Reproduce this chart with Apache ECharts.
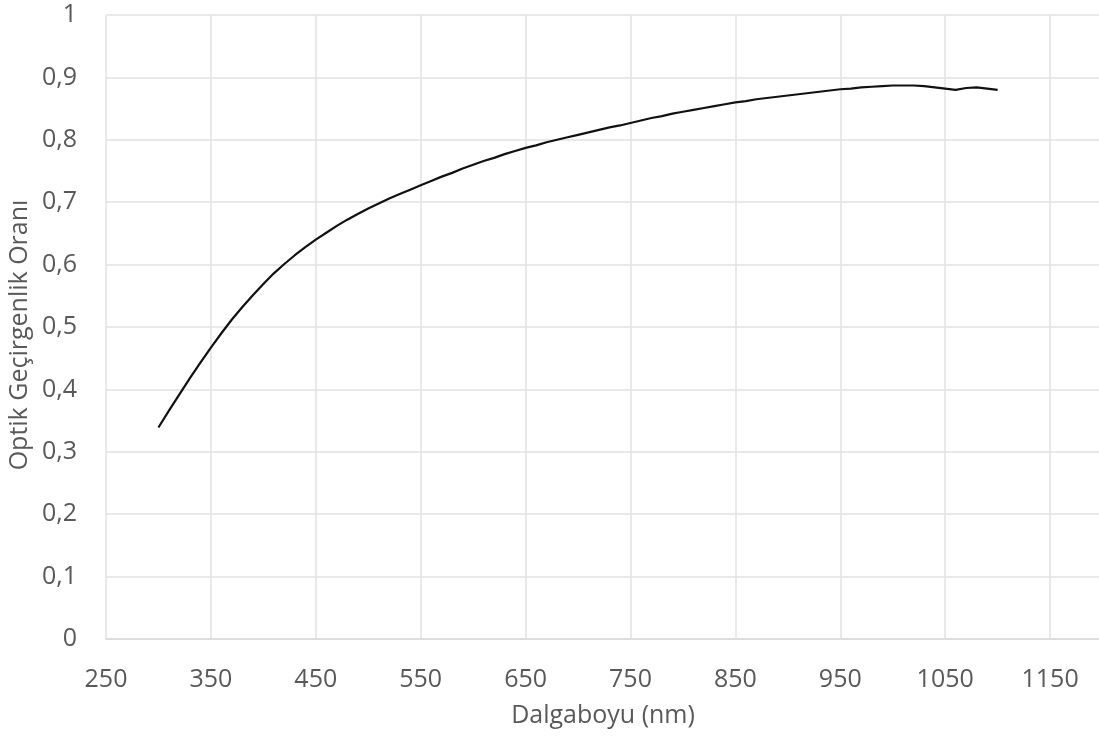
<!DOCTYPE html>
<html>
<head>
<meta charset="utf-8">
<script src="https://cdn.jsdelivr.net/npm/echarts@6/dist/echarts.min.js"></script>
<style>
  html, body { margin: 0; padding: 0; background: #fff; }
  #chart { width: 1099px; height: 738px; }
</style>
</head>
<body>
<div id="chart"></div>
<script>
// dalga boyu (nm)
const wavelength = [
  300, 310, 320, 330, 340, 350, 360, 370, 380, 390,
  400, 410, 420, 430, 440, 450, 460, 470, 480, 490,
  500, 510, 520, 530, 540, 550, 560, 570, 580, 590,
  600, 610, 620, 630, 640, 650, 660, 670, 680, 690,
  700, 710, 720, 730, 740, 750, 760, 770, 780, 790,
  800, 810, 820, 830, 840, 850, 860, 870, 880, 890,
  900, 910, 920, 930, 940, 950, 960, 970, 980, 990,
  1000, 1010, 1020, 1030, 1040, 1050, 1060, 1070, 1080, 1090, 1100
];
// optik geçirgenlik oranı
const transmittance = [
  0.339, 0.366, 0.392, 0.418, 0.443, 0.467, 0.490, 0.512, 0.532, 0.551,
  0.569, 0.586, 0.601, 0.615, 0.628, 0.640, 0.651, 0.662, 0.672, 0.681,
  0.690, 0.698, 0.706, 0.713, 0.720, 0.727, 0.734, 0.741, 0.747, 0.754,
  0.760, 0.766, 0.771, 0.777, 0.782, 0.787, 0.791, 0.796, 0.800, 0.804,
  0.808, 0.812, 0.816, 0.820, 0.823, 0.827, 0.831, 0.835, 0.838, 0.842,
  0.845, 0.848, 0.851, 0.854, 0.857, 0.860, 0.862, 0.865, 0.867, 0.869,
  0.871, 0.873, 0.875, 0.877, 0.879, 0.881, 0.882, 0.884, 0.885, 0.886,
  0.887, 0.887, 0.887, 0.886, 0.884, 0.882, 0.880, 0.883, 0.884, 0.882, 0.880
];
const xTitle = "Dalgaboyu (nm)";
const yTitle = "Optik Geçirgenlik Oranı";

const FONT = "'Open Sans', 'DejaVu Sans', sans-serif";
const TEXT_COLOR = "#595959";
const GRID_COLOR = "#e2e2e2";

const chart = echarts.init(document.getElementById("chart"), null, { renderer: "canvas" });

const option = {
  backgroundColor: "#ffffff",
  animation: false,
  textStyle: { fontFamily: FONT },
  grid: {
    left: 106,
    right: -56,
    top: 15,
    bottom: 99,
    containLabel: false,
    outerBoundsMode: "none"
  },
  xAxis: {
    type: "value",
    min: 250,
    max: 1250,
    interval: 100,
    axisLine: { show: true, lineStyle: { color: "#d9d9d9", width: 1.5 } },
    axisTick: { show: false },
    axisLabel: {
      color: TEXT_COLOR,
      fontSize: 25,
      fontFamily: FONT,
      margin: 28,
      formatter: function (v) {
        return String(v);
      }
    },
    splitLine: { show: true, lineStyle: { color: GRID_COLOR, width: 1.5 } }
  },
  yAxis: {
    type: "value",
    min: 0,
    max: 1,
    interval: 0.1,
    axisLine: { show: false },
    axisTick: { show: false },
    axisLabel: {
      color: TEXT_COLOR,
      fontSize: 25,
      fontFamily: FONT,
      margin: 29,
      formatter: function (v) {
        return (Math.round(v * 10) / 10).toString().replace(".", ",");
      }
    },
    splitLine: { show: true, lineStyle: { color: GRID_COLOR, width: 1.5 } }
  },
  series: [
    {
      type: "line",
      data: wavelength.map((w, i) => [w, transmittance[i]]),
      showSymbol: false,
      smooth: false,
      lineStyle: { color: "#111111", width: 2.2 }
    }
  ],
  graphic: [
    {
      type: "text",
      x: 603,
      y: 716,
      style: {
        text: xTitle,
        font: "25px " + FONT,
        fill: TEXT_COLOR,
        align: "center",
        verticalAlign: "middle"
      }
    },
    {
      type: "text",
      x: 20,
      y: 335,
      rotation: Math.PI / 2,
      style: {
        text: yTitle,
        font: "25px " + FONT,
        fill: TEXT_COLOR,
        align: "center",
        verticalAlign: "middle"
      }
    }
  ]
};

chart.setOption(option);
</script>
</body>
</html>
